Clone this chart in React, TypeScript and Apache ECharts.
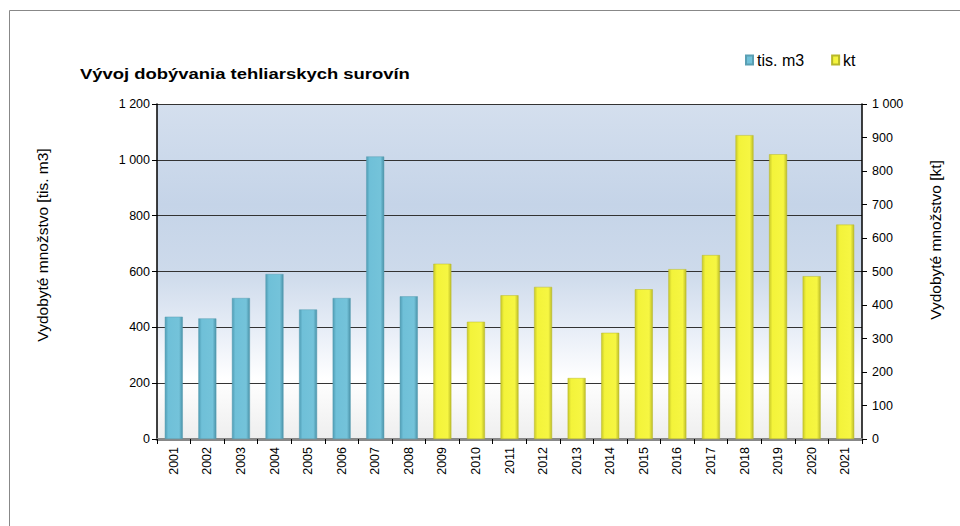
import React, { useEffect, useRef } from "react";
import * as echarts from "echarts";

const years = ["2001","2002","2003","2004","2005","2006","2007","2008","2009","2010","2011","2012","2013","2014","2015","2016","2017","2018","2019","2020","2021"];
const volumeM3 = [438, 432, 505, 591, 464, 505, 1012, 511, null, null, null, null, null, null, null, null, null, null, null, null, null];
const massKt = [null, null, null, null, null, null, null, null, 523, 350, 429, 454, 182, 317, 447, 507, 549, 907, 850, 486, 640];
const seriesNames = ["tis. m3", "kt"];
const titleText = "Vývoj dobývania tehliarskych surovín";
const leftAxisName = "Vydobyté množstvo [tis. m3]";
const rightAxisName = "Vydobyté množstvo [kt]";

const FONT = "'Liberation Sans', Arial, sans-serif";

function fmt(v: number): string {
  const s = String(Math.round(v));
  if (s.length <= 3) return s;
  return s.slice(0, s.length - 3) + " " + s.slice(s.length - 3);
}

export default function App() {
  const ref = useRef<HTMLDivElement>(null);
  useEffect(() => {
    if (!ref.current) return;
    const chart = echarts.init(ref.current, undefined, { renderer: "svg" });
    const blue = new echarts.graphic.LinearGradient(0, 0, 1, 0, [
      { offset: 0, color: "#4f9cb4" },
      { offset: 0.18, color: "#6fc0d8" },
      { offset: 0.8, color: "#74c3da" },
      { offset: 1, color: "#4a92a8" },
    ]);
    const yellow = new echarts.graphic.LinearGradient(0, 0, 1, 0, [
      { offset: 0, color: "#c9c92a" },
      { offset: 0.18, color: "#f3f33a" },
      { offset: 0.8, color: "#f6f642" },
      { offset: 1, color: "#bdbd28" },
    ]);
    chart.setOption({
      animation: false,
      backgroundColor: "#ffffff",
      textStyle: { fontFamily: FONT },
      grid: {
        left: 157,
        right: 98,
        top: 104,
        bottom: 87,
        show: true,
        borderWidth: 0,
        backgroundColor: new echarts.graphic.LinearGradient(0, 0, 0, 1, [
          { offset: 0, color: "#d4dfee" },
          { offset: 0.3, color: "#c5d4e8" },
          { offset: 0.5, color: "#cddaeb" },
          { offset: 0.68, color: "#e8eef7" },
          { offset: 0.82, color: "#ffffff" },
          { offset: 1, color: "#eeeeee" },
        ]),
      },
      legend: {
        left: 740,
        top: 47,
        icon: "rect",
        itemWidth: 7,
        itemHeight: 9,
        itemGap: 27,
        textStyle: { fontSize: 16, color: "#000", fontFamily: FONT, padding: [0, 0, 0, -1] },
        data: seriesNames,
      },
      graphic: [
        { type: "line", shape: { x1: 9.5, y1: 10.5, x2: 960, y2: 10.5 }, style: { stroke: "#888", lineWidth: 1 } },
        { type: "line", shape: { x1: 9.5, y1: 10.5, x2: 9.5, y2: 526 }, style: { stroke: "#888", lineWidth: 1 } },
        {
          type: "text",
          x: 80,
          y: 74,
          scaleX: 1.23,
          style: { text: titleText, font: `bold 15px ${FONT}`, fill: "#000", verticalAlign: "middle", align: "left" },
        },
        {
          type: "text",
          x: 42,
          y: 245,
          rotation: Math.PI / 2,
          style: { text: leftAxisName, font: `15.5px ${FONT}`, fill: "#000", verticalAlign: "middle", align: "center" },
        },
        {
          type: "text",
          x: 935,
          y: 240,
          rotation: Math.PI / 2,
          style: { text: rightAxisName, font: `15.5px ${FONT}`, fill: "#000", verticalAlign: "middle", align: "center" },
        },
      ],
      xAxis: [
        {
          type: "category",
          data: years,
          boundaryGap: true,
          axisLine: { lineStyle: { color: "#000", width: 1.5 } },
          axisTick: { show: true, length: 5, lineStyle: { color: "#000" } },
          axisLabel: { rotate: 90, fontSize: 12.5, color: "#000", margin: 8, fontFamily: FONT },
          splitLine: { show: false },
        },
        {
          type: "category",
          data: years,
          position: "top",
          axisLine: { lineStyle: { color: "#888", width: 3 } },
          axisTick: { show: false },
          axisLabel: { show: false },
          splitLine: { show: false },
        },
      ],
      yAxis: [
        {
          type: "value",
          min: 0,
          max: 1200,
          interval: 200,
          position: "left",
          axisLine: { show: true, lineStyle: { color: "#000", width: 1.5 } },
          axisTick: { show: true, length: 5, lineStyle: { color: "#000" } },
          axisLabel: { fontSize: 12.5, color: "#000", margin: 7, formatter: (v: number) => fmt(v), fontFamily: FONT },
          splitLine: { show: true, lineStyle: { color: "#333", width: 1 } },
        },
        {
          type: "value",
          min: 0,
          max: 1000,
          interval: 100,
          position: "right",
          axisLine: { show: true, lineStyle: { color: "#000", width: 1.5 } },
          axisTick: { show: true, length: 5, lineStyle: { color: "#000" } },
          axisLabel: { fontSize: 12.5, color: "#000", margin: 10, formatter: (v: number) => fmt(v), fontFamily: FONT },
          splitLine: { show: false },
        },
      ],
      series: [
        {
          name: seriesNames[0],
          type: "bar",
          yAxisIndex: 0,
          data: volumeM3,
          barWidth: 18,
          barGap: "-100%",
          itemStyle: { color: blue, borderColor: "#5a9fb3", borderWidth: 0.5 },
        },
        {
          name: seriesNames[1],
          type: "bar",
          yAxisIndex: 1,
          data: massKt,
          barWidth: 18,
          barGap: "-100%",
          itemStyle: { color: yellow, borderColor: "#b8b82a", borderWidth: 0.5 },
        },
      ],
    });
    return () => chart.dispose();
  }, []);
  return (
    <div
      ref={ref}
      style={{ position: "fixed", left: 0, top: 0, width: 960, height: 526 }}
    />
  );
}
